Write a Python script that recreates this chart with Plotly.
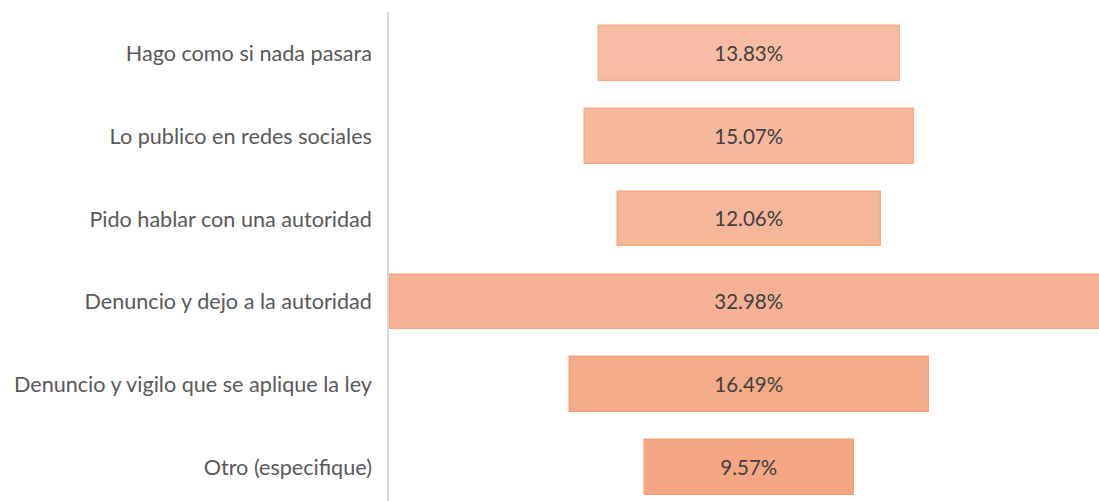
import plotly.graph_objects as go

categories = [
    "Hago como si nada pasara",
    "Lo publico en redes sociales",
    "Pido hablar con una autoridad",
    "Denuncio y dejo a la autoridad",
    "Denuncio y vigilo que se aplique la ley",
    "Otro (especifique)",
]
values = [13.83, 15.07, 12.06, 32.98, 16.49, 9.57]
labels = ["13.83%", "15.07%", "12.06%", "32.98%", "16.49%", "9.57%"]

fill_colors = ["#F7BCA3", "#F6B99E", "#F6B69A", "#F4B193", "#F4AB89", "#F5A783"]
line_colors = ["#F8AE88", "#F7AA84", "#F6A880", "#F5A67D", "#F4A27A", "#F4A077"]

fig = go.Figure(
    go.Bar(
        y=list(range(len(categories))),
        x=values,
        base=[-v / 2 for v in values],
        orientation="h",
        width=0.66,
        marker=dict(color=fill_colors, line=dict(color=line_colors, width=1.5)),
        text=labels,
        textposition="inside",
        insidetextanchor="middle",
        textangle=0,
        textfont=dict(family="Lato, Open Sans, sans-serif", size=20.5, color="#404040"),
        hoverinfo="skip",
        cliponaxis=True,
    )
)

fig.update_layout(
    width=1099,
    height=501,
    margin=dict(l=389, r=0, t=12, b=0),
    paper_bgcolor="white",
    plot_bgcolor="white",
    showlegend=False,
    bargap=0,
)
fig.update_xaxes(
    range=[-16.54, 16.03],
    showgrid=False,
    zeroline=False,
    showticklabels=False,
    showline=False,
    fixedrange=True,
)
fig.update_yaxes(
    range=[5.404, -0.5],
    tickmode="array",
    tickvals=list(range(len(categories))),
    ticktext=categories,
    showgrid=False,
    zeroline=False,
    showline=True,
    linecolor="#D9D9D9",
    linewidth=1.5,
    ticks="",
    ticklabelstandoff=11,
    tickfont=dict(family="Lato, Open Sans, sans-serif", size=21.6, color="#595959"),
)

fig.write_html(
    "out.html",
    config={"displayModeBar": False},
    post_script="document.body.style.margin='0';document.body.style.overflow='hidden';",
)
